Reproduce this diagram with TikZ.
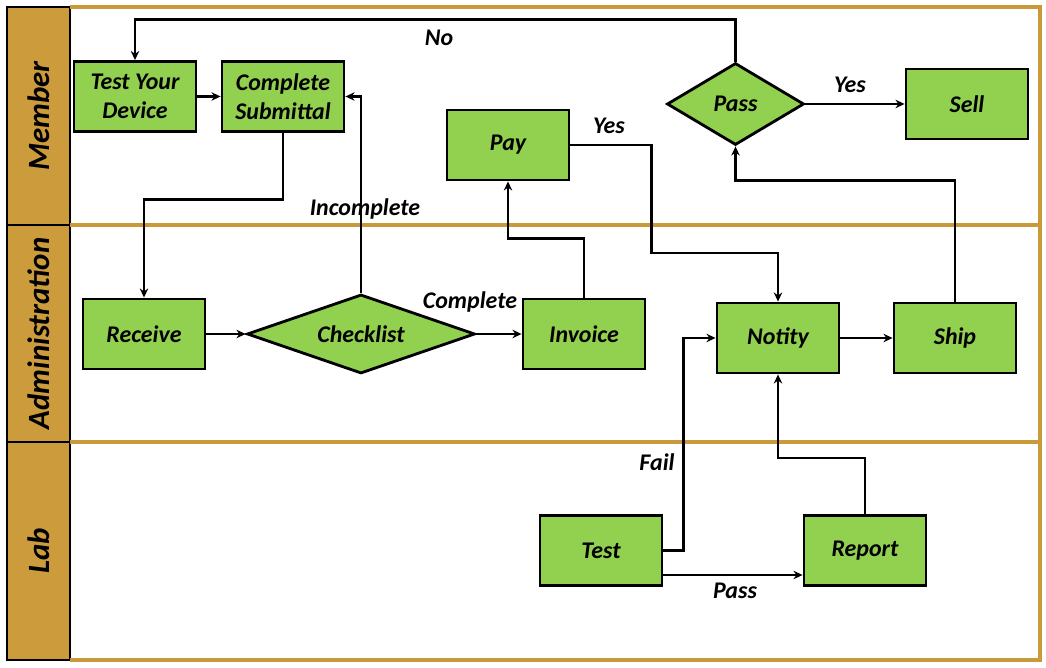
\documentclass[tikz,border=0pt]{standalone}
\usepackage{fontspec}
\setmainfont{Carlito}
\usepackage{tikz}
\usetikzlibrary{shapes.geometric}
\usetikzlibrary{positioning}
\usetikzlibrary{arrows.meta}
\definecolor{lanebrown}{HTML}{CC9B3C}
\definecolor{lanegold}{HTML}{C9993A}
\definecolor{stepgreen}{HTML}{92D050}
\tikzstyle{process} = [rectangle, minimum width=3.05cm, minimum height=1.75cm, text centered, draw=black, line width=2pt, fill=stepgreen, align=center, font=\bfseries\itshape\fontsize{17}{21}\selectfont]
\tikzstyle{decision} = [diamond, inner sep=0pt, text centered, draw=black, line width=2pt, fill=stepgreen, font=\bfseries\itshape\fontsize{17}{21}\selectfont]
\tikzstyle{tag} = [font=\bfseries\itshape\fontsize{17}{21}\selectfont]
\tikzstyle{lanename} = [rotate=90, font=\bfseries\itshape\fontsize{22}{26}\selectfont]
\tikzstyle{arrow} = [line width=1.7pt,-{Stealth[length=6.5pt,width=6pt]}]

\begin{document}
\begin{tikzpicture}[x=0.025cm, y=-0.025cm]
        \useasboundingbox (0,0) rectangle (1046,668);

        \fill [lanebrown] (7,7) rectangle (70,660);
        \draw [line width=2pt] (7,7) rectangle (70,660);
        \draw [line width=2pt] (7,225) -- (70,225);
        \draw [line width=2pt] (7,442) -- (70,442);
        \draw [lanegold, line width=2.2pt] (70,7) -- (1040,7) -- (1040,660) -- (70,660);
        \draw [lanegold, line width=2.2pt] (70,225) -- (1040,225);
        \draw [lanegold, line width=2.2pt] (70,442) -- (1040,442);

        \node (member) [lanename] at (38.5,116) {Member};
        \node (admin) [lanename] at (38.5,333.5) {Administration};
        \node (lab) [lanename] at (38.5,551) {Lab};

        \node (testdev) [process] at (135,96.5) {Test Your\\Device};
        \node (submit) [process] at (283,96.5) {Complete\\Submittal};
        \node (pay) [process] at (508,145) {Pay};
        \node (pass) [decision, minimum width=3.425cm, minimum height=2.05cm, aspect=1.67] at (735.5,104) {Pass};
        \node (sell) [process] at (967,104) {Sell};

        \node (receive) [process] at (144,334) {Receive};
        \node (check) [decision, minimum width=5.7cm, minimum height=1.975cm, aspect=2.9] at (361,334) {Checklist};
        \node (invoice) [process] at (584,334) {Invoice};
        \node (notity) [process] at (778,338) {Notity};
        \node (ship) [process] at (955,338) {Ship};

        \node (test) [process] at (601,550.5) {Test};
        \node (report) [process] at (865,550.5) {Report};

        \draw [arrow] (pass.north) -- ++(0,-42) -| (testdev.north);
        \draw [arrow] (testdev) -- (submit);
        \draw [arrow] (submit.south) -- ++(0,66.5) -| (receive.north);
        \draw [arrow] (receive) -- (check);
        \draw [arrow] (check.north) |- (submit.east);
        \draw [arrow] (check) -- (invoice);
        \draw [arrow] (invoice.north) -- ++(0,-59) -| (pay.south);
        \draw [arrow] (pay.east) -- ++(81,0) -- ++(0,108) -| (notity.north);
        \draw [arrow] (notity) -- (ship);
        \draw [arrow] (ship.north) -- ++(0,-121) -| (pass.south);
        \draw [arrow] (pass) -- (sell);
        \draw [arrow] (test.east) -- ++(20,0) |- (notity.west);
        \draw [arrow] ([yshift=-0.6125cm]test.east) -- ([yshift=-0.6125cm]report.west);
        \draw [arrow] (report.north) -- ++(0,-56) -| (notity.south);

        \node (no) [tag] at (439,38) {No};
        \node (incomplete) [tag] at (365,209) {Incomplete};
        \node (complete) [tag] at (470,302) {Complete};
        \node (payyes) [tag] at (609,126) {Yes};
        \node (passyes) [tag] at (850,85) {Yes};
        \node (fail) [tag] at (657,462) {Fail};
        \node (testpass) [tag] at (735,591) {Pass};
    \end{tikzpicture}
\end{document}
